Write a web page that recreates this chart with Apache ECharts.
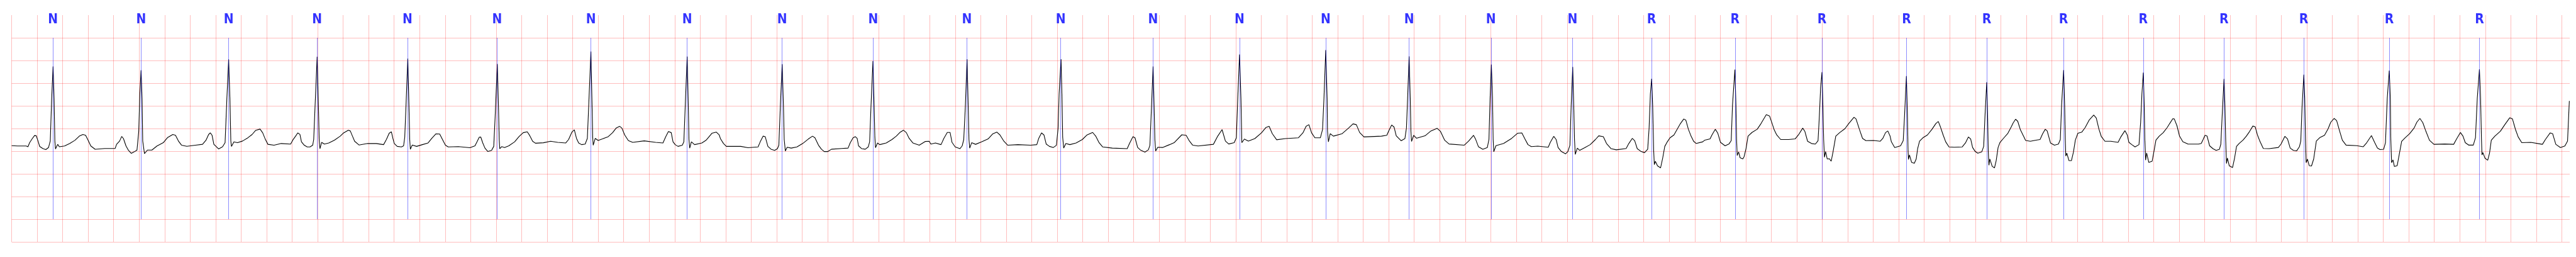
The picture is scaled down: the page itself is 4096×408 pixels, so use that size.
<!DOCTYPE html>
<html>
<head>
<meta charset="utf-8">
<script src="https://cdn.jsdelivr.net/npm/echarts@6/dist/echarts.min.js"></script>
<style>
html,body{margin:0;padding:0;background:#fff;}
#chart{width:4096px;height:408px;}
</style>
</head>
<body>
<div id="chart"></div>
<script>
// ECG samples: [time (s), amplitude (mV)]
const ecgSamples = [
[0.000,0.122],[0.046,0.115],[0.114,0.115],[0.128,0.097],[0.141,0.187],[0.162,0.278],[0.180,0.346],[0.193,0.340],[0.207,0.224],[0.220,0.104],[0.244,0.060],[0.268,0.035],[0.289,0.079],[0.303,0.224],[0.314,1.160],[0.325,1.867],[0.333,1.160],[0.339,0.224],[0.344,0.050],[0.361,0.151],[0.374,0.097],[0.415,0.115],[0.456,0.169],[0.497,0.241],[0.531,0.332],[0.559,0.368],[0.580,0.350],[0.600,0.241],[0.621,0.115],[0.655,0.042],[0.730,0.060],[0.812,0.060],
[0.823,0.151],[0.847,0.224],[0.863,0.325],[0.877,0.278],[0.897,0.115],[0.915,0.024],[0.938,-0.048],[0.963,-0.012],[0.983,0.024],[0.997,0.440],[1.005,1.235],[1.015,1.784],[1.023,1.160],[1.028,0.224],[1.042,-0.055],[1.065,0.024],[1.100,0.024],[1.140,0.115],[1.189,0.187],[1.224,0.303],[1.264,0.368],[1.285,0.350],[1.308,0.224],[1.332,0.133],[1.374,0.108],[1.442,0.133],[1.497,0.151],
[1.524,0.241],[1.545,0.368],[1.558,0.404],[1.572,0.350],[1.586,0.151],[1.599,0.115],[1.623,0.050],[1.654,0.097],[1.674,0.187],[1.688,1.160],[1.702,2.023],[1.712,1.160],[1.719,0.224],[1.724,0.104],[1.743,0.205],[1.771,0.187],[1.811,0.224],[1.853,0.296],[1.886,0.368],[1.914,0.459],[1.948,0.488],[1.969,0.404],[1.990,0.259],[2.010,0.151],[2.058,0.131],[2.114,0.169],[2.188,0.156],
[2.205,0.244],[2.227,0.332],[2.244,0.403],[2.261,0.370],[2.273,0.207],[2.295,0.131],[2.318,0.093],[2.340,0.093],[2.361,0.131],[2.369,0.257],[2.380,1.013],[2.396,2.083],[2.406,1.013],[2.412,0.257],[2.418,0.055],[2.431,0.194],[2.453,0.156],[2.487,0.181],[2.532,0.244],[2.577,0.332],[2.600,0.395],[2.640,0.463],[2.656,0.446],[2.673,0.332],[2.690,0.219],[2.724,0.136],[2.792,0.169],[2.860,0.169],[2.917,0.144],
[2.939,0.257],[2.961,0.395],[2.978,0.428],[2.990,0.282],[3.001,0.169],[3.024,0.106],[3.057,0.093],[3.074,0.118],[3.083,0.307],[3.093,1.013],[3.107,2.040],[3.116,1.013],[3.122,0.257],[3.127,0.043],[3.142,0.136],[3.176,0.106],[3.221,0.144],[3.266,0.181],[3.295,0.282],[3.328,0.383],[3.357,0.378],[3.379,0.257],[3.402,0.131],[3.424,0.093],[3.504,0.100],[3.594,0.076],[3.634,0.118],
[3.650,0.207],[3.667,0.307],[3.679,0.312],[3.695,0.181],[3.712,0.068],[3.735,-0.008],[3.764,0.018],[3.781,0.106],[3.792,0.761],[3.809,1.924],[3.818,1.013],[3.824,0.257],[3.828,0.055],[3.843,0.100],[3.866,0.081],[3.899,0.118],[3.945,0.207],[3.979,0.320],[4.012,0.408],[4.044,0.428],[4.063,0.345],[4.086,0.219],[4.108,0.176],[4.171,0.186],[4.227,0.219],[4.283,0.194],[4.346,0.181],
[4.368,0.257],[4.394,0.421],[4.413,0.471],[4.430,0.282],[4.447,0.181],[4.470,0.144],[4.498,0.156],[4.515,0.282],[4.526,1.013],[4.543,2.197],[4.552,1.013],[4.557,0.307],[4.561,0.131],[4.577,0.282],[4.600,0.237],[4.633,0.270],[4.679,0.320],[4.713,0.408],[4.741,0.509],[4.769,0.547],[4.786,0.509],[4.808,0.358],[4.837,0.232],[4.871,0.194],[4.961,0.227],[5.051,0.194],[5.108,0.181],
[5.130,0.320],[5.151,0.433],[5.173,0.408],[5.187,0.207],[5.204,0.144],[5.226,0.106],[5.260,0.131],[5.272,0.207],[5.283,1.013],[5.298,2.088],[5.307,1.013],[5.312,0.257],[5.318,0.068],[5.331,0.207],[5.356,0.144],[5.413,0.181],[5.447,0.244],[5.459,0.282],[5.492,0.395],[5.526,0.421],[5.549,0.358],[5.560,0.270],[5.583,0.169],[5.605,0.106],[5.718,0.106],[5.775,0.076],[5.854,0.093],
[5.871,0.207],[5.894,0.332],[5.910,0.320],[5.931,0.106],[5.956,0.043],[5.984,0.018],[6.006,0.055],[6.017,0.131],[6.029,1.013],[6.043,1.919],[6.053,1.013],[6.059,0.257],[6.068,0.005],[6.082,0.086],[6.114,0.068],[6.159,0.093],[6.204,0.169],[6.249,0.270],[6.281,0.332],[6.300,0.295],[6.328,0.131],[6.351,0.043],[6.373,-0.008],[6.401,-0.008],[6.430,0.043],[6.509,0.060],[6.560,0.068],
[6.576,0.181],[6.599,0.295],[6.616,0.320],[6.631,0.282],[6.642,0.118],[6.667,0.055],[6.695,0.043],[6.718,0.093],[6.729,0.207],[6.740,1.013],[6.755,1.987],[6.764,1.013],[6.770,0.307],[6.775,0.076],[6.791,0.181],[6.808,0.144],[6.859,0.181],[6.904,0.257],[6.938,0.332],[6.966,0.413],[6.994,0.463],[7.017,0.408],[7.039,0.282],[7.068,0.181],[7.118,0.131],[7.164,0.213],[7.196,0.219],[7.209,0.156],[7.245,0.181],[7.289,0.144],
[7.311,0.282],[7.338,0.413],[7.360,0.413],[7.375,0.194],[7.400,0.093],[7.437,0.055],[7.455,0.118],[7.467,0.257],[7.480,1.013],[7.493,2.028],[7.502,1.013],[7.508,0.257],[7.514,0.068],[7.529,0.186],[7.560,0.151],[7.609,0.207],[7.658,0.270],[7.695,0.383],[7.726,0.421],[7.751,0.358],[7.782,0.219],[7.812,0.131],[7.892,0.144],[7.991,0.131],[8.040,0.144],
[8.055,0.282],[8.077,0.403],[8.096,0.358],[8.114,0.156],[8.139,0.106],[8.170,0.081],[8.194,0.131],[8.207,0.509],[8.215,1.264],[8.230,2.028],[8.237,1.264],[8.243,0.307],[8.251,0.068],[8.268,0.169],[8.299,0.144],[8.348,0.181],[8.397,0.257],[8.434,0.358],[8.478,0.413],[8.502,0.332],[8.527,0.194],[8.557,0.093],[8.632,0.068],[8.749,0.055],
[8.767,0.169],[8.794,0.320],[8.810,0.295],[8.831,0.081],[8.853,0.025],[8.888,-0.020],[8.915,0.030],[8.927,0.131],[8.940,1.013],[8.952,1.869],[8.960,1.013],[8.966,0.257],[8.972,0.005],[8.989,0.086],[9.026,0.081],[9.081,0.144],[9.117,0.187],[9.177,0.361],[9.211,0.350],[9.237,0.223],[9.262,0.133],[9.305,0.115],[9.425,0.151],
[9.459,0.332],[9.493,0.476],[9.519,0.223],[9.545,0.158],[9.588,0.187],[9.605,0.296],[9.616,1.163],[9.630,2.131],[9.641,1.163],[9.648,0.187],[9.668,0.267],[9.699,0.223],[9.750,0.278],[9.802,0.404],[9.836,0.520],[9.862,0.549],[9.887,0.386],[9.921,0.252],[9.990,0.278],[10.092,0.296],
[10.127,0.404],[10.152,0.549],[10.174,0.585],[10.195,0.404],[10.221,0.296],[10.264,0.296],[10.281,0.476],[10.292,1.163],[10.306,2.229],[10.317,1.163],[10.320,0.440],[10.327,0.205],[10.341,0.386],[10.366,0.332],[10.435,0.386],[10.486,0.512],[10.520,0.602],[10.546,0.585],[10.572,0.411],[10.606,0.314],[10.743,0.332],[10.785,0.350],
[10.802,0.458],[10.823,0.577],[10.842,0.531],[10.859,0.339],[10.897,0.230],[10.927,0.278],[10.939,0.512],[10.948,1.163],[10.960,2.091],[10.969,1.163],[10.974,0.440],[10.979,0.216],[10.996,0.350],[11.017,0.285],[11.085,0.339],[11.128,0.440],[11.179,0.505],[11.205,0.440],[11.239,0.241],[11.273,0.158],[11.393,0.133],
[11.427,0.223],[11.465,0.350],[11.482,0.259],[11.504,0.096],[11.538,0.042],[11.573,0.079],[11.586,0.259],[11.595,1.163],[11.605,1.911],[11.614,1.163],[11.619,0.259],[11.624,-0.012],[11.641,0.122],[11.701,0.169],[11.764,0.282],[11.810,0.395],[11.844,0.403],[11.866,0.282],[11.892,0.144],[11.918,0.100],[11.969,0.111],[12.051,0.086],
[12.067,0.194],[12.094,0.327],[12.113,0.257],[12.128,0.081],[12.154,-0.008],[12.187,-0.058],[12.205,-0.008],[12.221,0.131],[12.231,1.013],[12.243,1.856],[12.251,1.013],[12.257,0.257],[12.263,-0.071],[12.279,0.068],[12.297,0.018],[12.339,0.081],[12.380,0.144],[12.421,0.257],[12.447,0.338],[12.483,0.320],[12.508,0.169],[12.544,0.055],[12.585,0.030],[12.662,0.060],
[12.683,0.169],[12.710,0.282],[12.729,0.232],[12.749,0.055],[12.780,-0.008],[12.806,-0.033],[12.831,0.043],[12.842,0.509],[12.852,1.264],[12.862,1.597],[12.870,1.013],[12.878,0.005],[12.883,-0.297],[12.891,-0.222],[12.908,-0.322],[12.932,-0.368],[12.949,-0.146],[12.965,0.106],[12.985,0.207],[13.006,0.295],[13.037,0.358],[13.062,0.484],[13.088,0.610],[13.114,0.710],[13.130,0.685],[13.150,0.484],[13.171,0.332],[13.191,0.219],[13.212,0.169],[13.263,0.207],[13.279,0.244],[13.320,0.270],
[13.335,0.358],[13.361,0.484],[13.381,0.395],[13.402,0.194],[13.438,0.118],[13.469,0.161],[13.486,0.232],[13.496,1.013],[13.515,1.798],[13.523,1.013],[13.528,0.257],[13.533,-0.096],[13.544,-0.015],[13.556,-0.146],[13.577,-0.171],[13.587,-0.121],[13.602,0.055],[13.618,0.332],[13.649,0.413],[13.690,0.484],[13.720,0.610],[13.761,0.806],[13.787,0.773],[13.807,0.610],[13.823,0.471],[13.843,0.358],[13.874,0.257],[13.936,0.257],[13.987,0.270],
[14.013,0.358],[14.047,0.509],[14.064,0.433],[14.085,0.219],[14.116,0.169],[14.146,0.156],[14.167,0.232],[14.177,0.761],[14.187,1.390],[14.198,1.743],[14.205,1.013],[14.211,0.257],[14.217,-0.134],[14.226,-0.008],[14.239,-0.171],[14.256,-0.166],[14.270,-0.222],[14.285,-0.008],[14.306,0.332],[14.336,0.408],[14.378,0.496],[14.408,0.610],[14.449,0.748],[14.465,0.710],[14.491,0.484],[14.516,0.282],[14.542,0.232],[14.603,0.237],[14.655,0.219],
[14.675,0.282],[14.696,0.408],[14.714,0.446],[14.732,0.332],[14.742,0.207],[14.768,0.081],[14.814,0.118],[14.835,0.232],[14.845,0.761],[14.860,1.655],[14.868,0.761],[14.873,0.005],[14.876,-0.184],[14.884,-0.083],[14.901,-0.247],[14.922,-0.267],[14.937,-0.171],[14.948,0.055],[14.963,0.219],[14.989,0.295],[15.025,0.358],[15.061,0.484],[15.091,0.610],[15.110,0.655],[15.127,0.534],[15.148,0.358],[15.168,0.207],[15.194,0.093],[15.235,0.086],[15.297,0.093],
[15.323,0.181],[15.346,0.312],[15.364,0.270],[15.379,0.081],[15.400,-0.008],[15.420,-0.045],[15.451,-0.015],[15.466,0.106],[15.476,0.761],[15.490,1.521],[15.497,0.761],[15.502,0.005],[15.507,-0.310],[15.514,-0.171],[15.533,-0.335],[15.551,-0.368],[15.564,-0.209],[15.579,0.081],[15.594,0.194],[15.625,0.295],[15.656,0.395],[15.682,0.534],[15.697,0.622],[15.716,0.705],[15.733,0.660],[15.754,0.471],[15.774,0.358],[15.795,0.237],[15.832,0.219],[15.877,0.244],[15.908,0.257],
[15.928,0.383],[15.949,0.484],[15.964,0.446],[15.980,0.282],[15.990,0.181],[16.021,0.131],[16.052,0.156],[16.067,0.257],[16.077,1.013],[16.093,1.788],[16.101,1.013],[16.106,0.257],[16.110,-0.108],[16.118,-0.045],[16.135,-0.209],[16.154,-0.209],[16.170,-0.020],[16.185,0.244],[16.205,0.395],[16.236,0.421],[16.262,0.521],[16.293,0.685],[16.329,0.798],[16.349,0.730],[16.370,0.484],[16.389,0.320],[16.417,0.219],[16.463,0.219],[16.520,0.194],
[16.540,0.307],[16.574,0.453],[16.592,0.358],[16.605,0.194],[16.628,0.144],[16.653,0.093],[16.684,0.144],[16.697,0.635],[16.707,1.264],[16.718,1.731],[16.725,1.013],[16.730,0.257],[16.736,-0.196],[16.744,-0.040],[16.761,-0.247],[16.787,-0.222],[16.802,0.005],[16.817,0.244],[16.843,0.332],[16.874,0.408],[16.905,0.521],[16.925,0.610],[16.949,0.715],[16.961,0.710],[16.982,0.559],[17.002,0.332],[17.028,0.207],[17.069,0.156],[17.151,0.156],[17.172,0.169],
[17.187,0.257],[17.202,0.350],[17.218,0.332],[17.238,0.118],[17.264,0.055],[17.289,0.018],[17.315,0.043],[17.326,0.156],[17.336,0.761],[17.351,1.592],[17.358,1.013],[17.364,0.257],[17.370,-0.272],[17.377,-0.151],[17.392,-0.322],[17.418,-0.360],[17.434,-0.146],[17.449,0.106],[17.469,0.169],[17.500,0.244],[17.526,0.332],[17.551,0.433],[17.577,0.554],[17.595,0.539],[17.613,0.358],[17.634,0.207],[17.659,0.060],[17.705,0.055],[17.777,0.081],
[17.798,0.156],[17.828,0.327],[17.849,0.270],[17.870,0.068],[17.895,0.018],[17.920,0.006],[17.942,0.097],[17.953,0.223],[17.963,0.982],[17.977,1.687],[17.984,1.163],[17.990,0.260],[17.995,-0.254],[18.005,-0.174],[18.019,-0.319],[18.037,-0.326],[18.054,-0.174],[18.075,0.223],[18.104,0.303],[18.139,0.350],[18.167,0.494],[18.188,0.639],[18.214,0.722],[18.234,0.675],[18.258,0.440],[18.279,0.241],[18.308,0.133],[18.392,0.122],[18.442,0.097],
[18.470,0.187],[18.507,0.343],[18.533,0.187],[18.554,0.068],[18.575,0.035],[18.603,0.042],[18.617,0.187],[18.631,1.163],[18.647,1.778],[18.655,1.163],[18.659,0.260],[18.665,-0.254],[18.676,-0.192],[18.687,-0.337],[18.709,-0.319],[18.722,-0.120],[18.744,0.216],[18.772,0.296],[18.807,0.386],[18.842,0.512],[18.863,0.639],[18.887,0.722],[18.910,0.629],[18.934,0.440],[18.962,0.241],[18.997,0.151],[19.082,0.158],[19.152,0.151],
[19.173,0.260],[19.205,0.412],[19.225,0.332],[19.243,0.187],[19.271,0.133],[19.306,0.133],[19.323,0.296],[19.337,1.163],[19.354,1.806],[19.363,1.163],[19.370,0.260],[19.374,-0.084],[19.381,-0.030],[19.398,-0.156],[19.419,-0.200],[19.433,-0.048],[19.447,0.241],[19.475,0.332],[19.518,0.440],[19.553,0.585],[19.592,0.737],[19.613,0.711],[19.637,0.476],[19.658,0.314],[19.686,0.187],[19.757,0.194],[19.848,0.151],
[19.872,0.260],[19.909,0.404],[19.928,0.386],[19.953,0.151],[19.989,0.079],[20.024,0.115],[20.045,0.223],[20.059,1.108]
];

// Beat annotations (time in s) and their symbols
const beatTime = [0.324,1.015,1.702,2.396,3.105,3.807,4.543,5.298,6.043,6.757,7.492,8.228,8.952,9.630,10.306,10.960,11.602,12.241,12.861,13.516,14.198,14.861,15.490,16.092,16.717,17.350,17.976,18.647,19.354];
const beatLabel = ['N','N','N','N','N','N','N','N','N','N','N','N','N','N','N','N','N','N','R','R','R','R','R','R','R','R','R','R','R'];

// Axis settings (seconds / mV)
const timeRange = [0, 20.062];
const timeStep = 0.2;
const mvRange = [-2, 3];
const mvStep = 0.5;
const markerSpan = [-1.5, 2.5];
const labelLevel = 2.89;

const chart = echarts.init(document.getElementById('chart'), null, {renderer: 'canvas'});
const gridColor = 'rgba(255,0,0,0.26)';
chart.setOption({
  animation: false,
  backgroundColor: '#ffffff',
  grid: {left: 18.5, right: 10, top: 24, bottom: 24, containLabel: false},
  xAxis: {
    type: 'value', min: timeRange[0], max: timeRange[1], interval: timeStep,
    axisLine: {show: false}, axisTick: {show: false}, axisLabel: {show: false},
    splitLine: {show: true, showMaxLine: false, lineStyle: {color: gridColor, width: 1}}
  },
  yAxis: {
    type: 'value', min: mvRange[0], max: mvRange[1], interval: mvStep,
    axisLine: {show: false}, axisTick: {show: false}, axisLabel: {show: false},
    splitLine: {show: true, showMaxLine: false, lineStyle: {color: gridColor, width: 1}}
  },
  series: [
    {
      type: 'scatter',
      data: beatTime.map((t, i) => [t, labelLevel, beatLabel[i]]),
      symbolSize: 0,
      silent: true,
      z: 2,
      label: {
        show: true, position: 'inside',
        formatter: p => p.value[2],
        color: '#0000ff', fontWeight: 'bold', fontSize: 21,
        fontFamily: "'Liberation Sans Narrow', 'DejaVu Sans Condensed', 'Liberation Sans', sans-serif"
      },
      markLine: {
        silent: true, symbol: ['none', 'none'], animation: false,
        label: {show: false},
        lineStyle: {color: 'rgba(0,0,255,0.45)', width: 1, type: 'solid'},
        data: beatTime.map(t => [{coord: [t, markerSpan[0]]}, {coord: [t, markerSpan[1]]}])
      }
    },
    {
      type: 'line',
      data: ecgSamples,
      showSymbol: false,
      symbol: 'none',
      smooth: false,
      silent: true,
      z: 3,
      lineStyle: {color: '#000000', width: 1.1}
    }
  ]
});
</script>
</body>
</html>
